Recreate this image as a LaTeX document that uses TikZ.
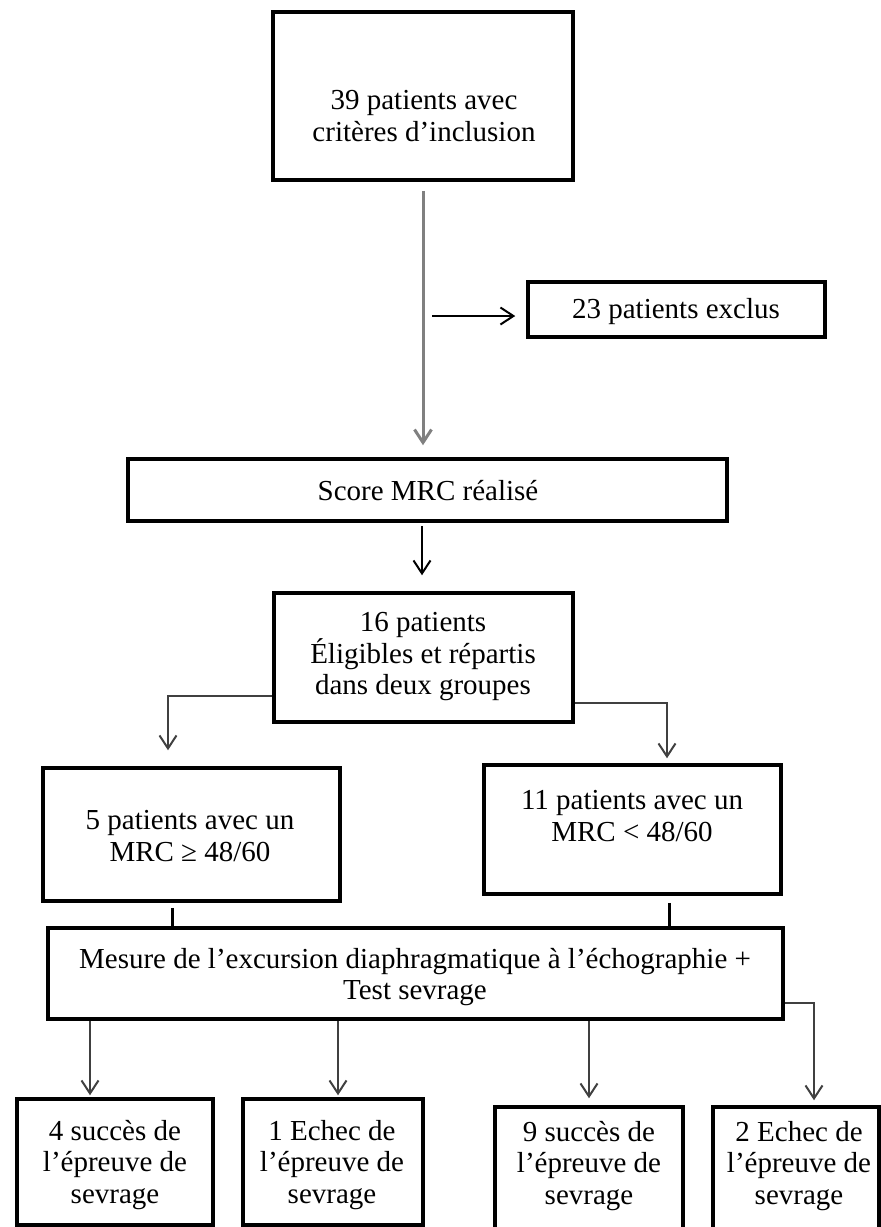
\documentclass[tikz,border=0pt]{standalone}
\usepackage{fontspec}
\setmainfont{Liberation Serif}
\usetikzlibrary{arrows.meta}
\definecolor{lgray}{HTML}{808080}
\definecolor{dgray}{HTML}{404040}
\begin{document}
\begin{tikzpicture}[x=1pt,y=-1pt,
  box/.style={draw=black,line width=3.5pt,rectangle,inner sep=0pt},
  txt/.style={inner sep=0pt,align=center,font=\fontsize{29}{31.5}\selectfont},
  arr/.style={-{Straight Barb[length=13pt,width=17pt]}},
  link/.style={line width=2pt,draw=dgray}]
\useasboundingbox (0,0) rectangle (881,1227);
% boxes
\node[box,minimum width=300pt,minimum height=168pt] (top) at (423,96) {};
\node[box,minimum width=297pt,minimum height=55pt] (excl) at (676.5,309.5) {};
\node[box,minimum width=599pt,minimum height=62pt] (score) at (427.5,490) {};
\node[box,minimum width=299pt,minimum height=129pt] (g16) at (423.5,657.5) {};
\node[box,minimum width=297pt,minimum height=133pt] (b5) at (191.5,834.5) {};
\node[box,minimum width=297pt,minimum height=129pt] (b11) at (632.5,829.5) {};
\node[box,minimum width=735pt,minimum height=91pt] (mes) at (415.5,973.5) {};
\node[box,minimum width=196pt,minimum height=126pt] (r1) at (115,1162) {};
\node[box,minimum width=180pt,minimum height=126pt] (r2) at (333,1162) {};
\node[box,minimum width=188pt,minimum height=133pt] (r3) at (589,1173.5) {};
\node[box,minimum width=166pt,minimum height=133pt] (r4) at (796,1173.5) {};
% texts
\node[txt] (topt) at (424,116) {39 patients avec\\critères d’inclusion};
\node[txt,anchor=base] (exclt) at (676,318) {23 patients exclus};
\node[txt,anchor=base] (scoret) at (428,500) {Score MRC réalisé};
\node[txt] (g16t) at (423,657) {16 patients\\Éligibles et répartis\\dans deux groupes};
\node[txt] (b5t) at (190,836) {5 patients avec un\\MRC ≥ 48/60};
\node[txt] (b11t) at (632,816) {11 patients avec un\\MRC < 48/60};
\node[txt] (mest) at (415,977) {Mesure de l’excursion diaphragmatique à l’échographie +\\Test sevrage};
\node[txt] (r1t) at (115,1165) {4 succès de\\l’épreuve de\\sevrage};
\node[txt] (r2t) at (332,1165) {1 Echec de\\l’épreuve de\\sevrage};
\node[txt] (r3t) at (589,1166) {9 succès de\\l’épreuve de\\sevrage};
\node[txt] (r4t) at (799,1166) {2 Echec de\\l’épreuve de\\sevrage};
% connectors
\draw[arr,line width=3pt,draw=lgray,shorten <=9pt,shorten >=12pt] (top.south) -- (top.south |- score.north);
\coordinate (exc0) at (432,316);
\draw[arr,line width=2pt,shorten >=11pt] (exc0) -- (excl.west |- exc0);
\draw[arr,line width=2pt,shorten <=3pt,shorten >=16pt] (score.south -| 422,0) -- (g16.north -| 422,0);
\draw[arr,link,shorten >=16pt] (g16.west |- 0,696) -| (b5.north -| 168,0);
\draw[arr,link,shorten >=5pt] (g16.east |- 0,703) -| (b11.north -| 667,0);
\draw[line width=3pt,shorten <=5pt] (b5.south -| 172,0) -- (mes.north -| 172,0);
\draw[line width=3pt,shorten <=7pt] (b11.south -| 669,0) -- (mes.north -| 669,0);
\draw[arr,link,shorten >=2pt] (mes.south -| 90,0) -- (r1.north -| 90,0);
\draw[arr,link,shorten >=2pt] (mes.south -| 338,0) -- (r2.north -| 338,0);
\draw[arr,link,shorten >=7pt] (mes.south -| r3.north) -- (r3.north);
\draw[arr,link,shorten >=5pt] (mes.east |- 0,1003) -| (r4.north -| 814,0);
\end{tikzpicture}
\end{document}
